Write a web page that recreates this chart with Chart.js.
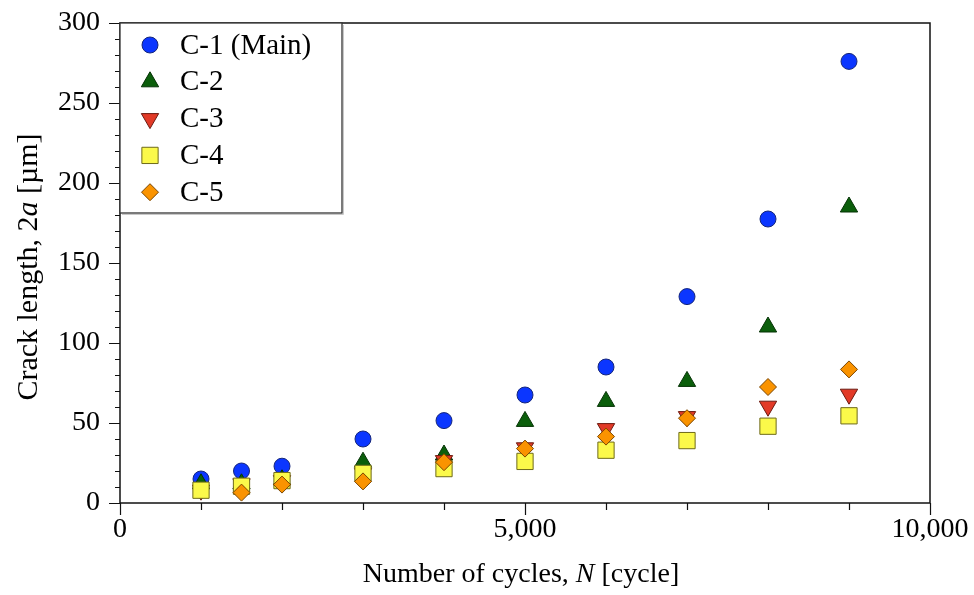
<!DOCTYPE html>
<html><head><meta charset="utf-8">
<script src="https://cdn.jsdelivr.net/npm/chart.js@4.4.0/dist/chart.umd.min.js"></script>
<style>html,body{margin:0;padding:0;background:#fff;}#wrap{width:974px;height:595px;}</style>
</head><body><div id="wrap"><canvas id="c" width="974" height="595"></canvas></div>
<script>
// ---- data ----
const cycles = [1000, 1500, 2000, 3000, 4000, 5000, 6000, 7000, 8000, 9000];
const seriesLabels = ['C-1 (Main)', 'C-2', 'C-3', 'C-4', 'C-5'];
const c1 = [15, 20, 23, 40, 51.5, 67.5, 85, 129, 177.5, 276];
const c2 = [12, 12, 14.5, 25.5, 30, 51, 63.5, 76, 110, 185];
const c3 = [8, 12, 14, 18.5, 26.5, 34.5, 46.5, 54, 60.5, 68];
const c4 = [8, 10.5, 14, 18.5, 21.5, 26, 33, 39, 48, 54.5];
const c5 = [null, 6.5, 11.5, 13.5, 25.5, 34, 41.5, 53, 72.5, 83.5];
const xTickStep = 1000, xLabelEvery = 5000;
const yTickStep = 10, yLabelEvery = 50;
const xTitle = [{t: 'Number of cycles, '}, {t: 'N', i: true}, {t: ' [cycle]'}];
const yTitle = [{t: 'Crack length, 2'}, {t: 'a', i: true}, {t: ' [\u00b5m]'}];

// ---- styles ----
const FONT = '"Liberation Serif", "Times New Roman", serif';
const styles = [
  {bg: '#0b36ff', bd: '#15267a', ps: 'circle', r: 8, rot: 0},
  {bg: '#0b5e0b', bd: '#053205', ps: 'triangle', r: 10, rot: 0},
  {bg: '#e23a27', bd: '#6a1a10', ps: 'triangle', r: 10, rot: 180},
  {bg: '#fbf94a', bd: '#6e6a1a', ps: 'rect', r: 11.5, rot: 0},
  {bg: '#fa9300', bd: '#7a4500', ps: 'rectRot', r: 8.5, rot: 0}
];
const seriesValues = [c1, c2, c3, c4, c5];

const datasets = seriesValues.map((vals, k) => ({
  label: seriesLabels[k],
  data: cycles.map((x, j) => ({x: x, y: vals[j]})).filter(p => p.y !== null),
  pointStyle: styles[k].ps,
  pointRadius: styles[k].r,
  pointRotation: styles[k].rot,
  backgroundColor: styles[k].bg,
  borderColor: styles[k].bd,
  borderWidth: 1,
  showLine: false,
  order: seriesValues.length - k
}));

function drawRich(ctx, segs, x, y, rot, size) {
  ctx.save();
  ctx.translate(x, y);
  ctx.rotate(rot);
  ctx.fillStyle = '#000';
  ctx.textBaseline = 'alphabetic';
  ctx.textAlign = 'left';
  let total = 0;
  const ws = segs.map(s => { ctx.font = (s.i ? 'italic ' : '') + size + 'px ' + FONT; const w = ctx.measureText(s.t).width; total += w; return w; });
  let cx = -total / 2;
  segs.forEach((s, k) => { ctx.font = (s.i ? 'italic ' : '') + size + 'px ' + FONT; ctx.fillText(s.t, cx, 0); cx += ws[k]; });
  ctx.restore();
}

function markerPath(ctx, st, x, y) {
  const opts = {pointStyle: st.ps, radius: st.r, rotation: st.rot, borderWidth: 1};
  if (Chart.helpers && Chart.helpers.drawPoint) { Chart.helpers.drawPoint(ctx, opts, x, y); return; }
  ctx.beginPath(); ctx.arc(x, y, st.r, 0, Math.PI * 2); ctx.fill(); ctx.stroke();
}

const framePlugin = {
  id: 'frame',
  afterDraw(chart) {
    const ctx = chart.ctx, a = chart.chartArea;
    const xs = chart.scales.x, ys = chart.scales.y;
    ctx.save();
    // ticks
    ctx.strokeStyle = '#111';
    ctx.lineWidth = 1.2;
    ctx.beginPath();
    xs.ticks.forEach(t => {
      const px = Math.round(xs.getPixelForValue(t.value)) + 0.5;
      const len = (t.value % xLabelEvery === 0) ? 12 : 7;
      ctx.moveTo(px, a.bottom); ctx.lineTo(px, a.bottom + len);
    });
    ys.ticks.forEach(t => {
      const py = Math.round(ys.getPixelForValue(t.value)) + 0.5;
      const len = (t.value % yLabelEvery === 0) ? 11 : 5;
      ctx.moveTo(a.left, py); ctx.lineTo(a.left - len, py);
    });
    ctx.stroke();
    // plot box
    ctx.lineWidth = 1.5;
    ctx.strokeStyle = '#111';
    ctx.strokeRect(a.left, a.top, a.right - a.left, a.bottom - a.top);
    // legend
    const lx = a.left, ly = a.top, lw = 222, lh = 190;
    ctx.fillStyle = '#fff';
    ctx.fillRect(lx, ly, lw, lh);
    ctx.strokeStyle = '#c8c8c8';
    ctx.lineWidth = 1;
    ctx.beginPath(); ctx.moveTo(lx + 2, ly + lh + 1.5); ctx.lineTo(lx + lw + 1.5, ly + lh + 1.5); ctx.lineTo(lx + lw + 1.5, ly + 2); ctx.stroke();
    ctx.strokeStyle = '#333';
    ctx.lineWidth = 1.3;
    ctx.strokeRect(lx, ly, lw, lh);
    chart.data.datasets.forEach((ds, k) => {
      const cy = ly + 22 + k * 36.8;
      ctx.fillStyle = styles[k].bg; ctx.strokeStyle = styles[k].bd; ctx.lineWidth = 1;
      markerPath(ctx, styles[k], lx + 30, cy);
      ctx.fillStyle = '#000';
      ctx.font = '29px ' + FONT;
      ctx.textAlign = 'left'; ctx.textBaseline = 'middle';
      ctx.fillText(ds.label, lx + 60, cy + 1);
    });
    // axis titles
    drawRich(ctx, xTitle, (a.left + a.right) / 2 - 4, 582, 0, 28);
    drawRich(ctx, yTitle, 37, 267, -Math.PI / 2, 30);
    ctx.restore();
  }
};

new Chart(document.getElementById('c'), {
  type: 'scatter',
  data: {datasets: datasets},
  options: {
    responsive: false,
    animation: false,
    devicePixelRatio: 1,
    layout: {padding: {left: 0, top: 23, right: 44, bottom: 0}},
    plugins: {legend: {display: false}, tooltip: {enabled: false}},
    scales: {
      x: {
        type: 'linear', min: 0, max: 10000,
        ticks: {stepSize: xTickStep, autoSkip: false, maxRotation: 0, padding: 10, color: '#000',
          font: {family: FONT, size: 28},
          callback: v => (v % xLabelEvery === 0 ? v.toLocaleString('en-US') : '')},
        grid: {display: false, drawTicks: true, tickLength: 0},
        border: {display: false},
        afterFit: s => { s.height = 92; s.paddingLeft = 0; s.paddingRight = 0; }
      },
      y: {
        type: 'linear', min: 0, max: 300,
        ticks: {stepSize: yTickStep, autoSkip: false, padding: 20, color: '#000',
          font: {family: FONT, size: 28},
          callback: v => (v % yLabelEvery === 0 ? String(v) : '')},
        grid: {display: false, drawTicks: true, tickLength: 0},
        border: {display: false},
        afterFit: s => { s.width = 120; s.paddingTop = 0; s.paddingBottom = 0; }
      }
    }
  },
  plugins: [framePlugin]
});
</script></body></html>
